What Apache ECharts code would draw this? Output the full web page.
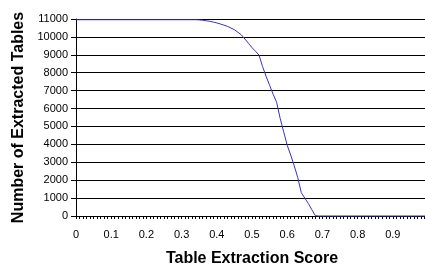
<!DOCTYPE html>
<html><head><meta charset="utf-8">
<script src="https://cdn.jsdelivr.net/npm/echarts@6/dist/echarts.min.js"></script>
<style>html,body{margin:0;padding:0;background:#fff}#c{width:425px;height:265px}</style>
</head><body><div id="c"></div>
<script>
var scores = [0, 0.34, 0.35, 0.36, 0.37, 0.38, 0.39, 0.40, 0.41, 0.42, 0.43, 0.44, 0.45, 0.46, 0.47, 0.48, 0.49, 0.50, 0.51, 0.52, 0.53, 0.54, 0.55, 0.56, 0.57, 0.58, 0.59, 0.60, 0.61, 0.62, 0.63, 0.64, 0.65, 0.66, 0.67, 0.68, 0.69, 1.0];
var tables = [10960, 10960, 10950, 10930, 10900, 10870, 10830, 10780, 10720, 10660, 10590, 10500, 10400, 10260, 10110, 9880, 9640, 9400, 9200, 8980, 8350, 7800, 7300, 6800, 6350, 5450, 4700, 3950, 3400, 2800, 2150, 1300, 1000, 700, 350, 20, 0, 0];
var xTitle = 'Table Extraction Score';
var yTitle = 'Number of Extracted Tables';

var data = scores.map(function (s, i) { return [s, tables[i]]; });
var font = 'Liberation Sans, Arial, sans-serif';
var chart = echarts.init(document.getElementById('c'), null, {renderer: 'canvas'});
chart.setOption({
  animation: false,
  grid: {left: 76, right: -3, top: 19, bottom: 49, containLabel: false, outerBoundsMode: 'none'},
  xAxis: {
    type: 'value', min: 0, max: 1, interval: 0.1,
    name: xTitle, nameLocation: 'middle', nameGap: 35,
    nameTextStyle: {fontFamily: font, fontSize: 16, fontWeight: 'bold', color: '#000', padding: [0, 0, 0, 0]},
    axisLine: {show: true, lineStyle: {color: '#000', width: 1}},
    axisTick: {show: true, length: 3, inside: false, lineStyle: {color: '#000'}},
    minorTick: {show: true, splitNumber: 10, length: 3, lineStyle: {color: '#000'}},
    splitLine: {show: false},
    axisLabel: {fontFamily: font, fontSize: 11, color: '#000', margin: 13, showMaxLabel: false,
      formatter: function (v) { return String(Math.round(v * 10) / 10); }}
  },
  yAxis: {
    type: 'value', min: 0, max: 11000, interval: 1000,
    name: yTitle, nameLocation: 'middle', nameGap: 47,
    nameTextStyle: {fontFamily: font, fontSize: 16, fontWeight: 'bold', color: '#000'},
    axisLine: {show: true, lineStyle: {color: '#000', width: 1}},
    axisTick: {show: true, length: 5, lineStyle: {color: '#000'}},
    splitLine: {show: true, lineStyle: {color: '#000', width: 1}},
    axisLabel: {fontFamily: font, fontSize: 11, color: '#000', margin: 8,
      formatter: function (v) { return String(v); }}
  },
  series: [{
    type: 'line', data: data, showSymbol: false, symbol: 'none',
    lineStyle: {color: '#3a2fc0', width: 1}, z: 5, clip: false
  }]
});
</script></body></html>
